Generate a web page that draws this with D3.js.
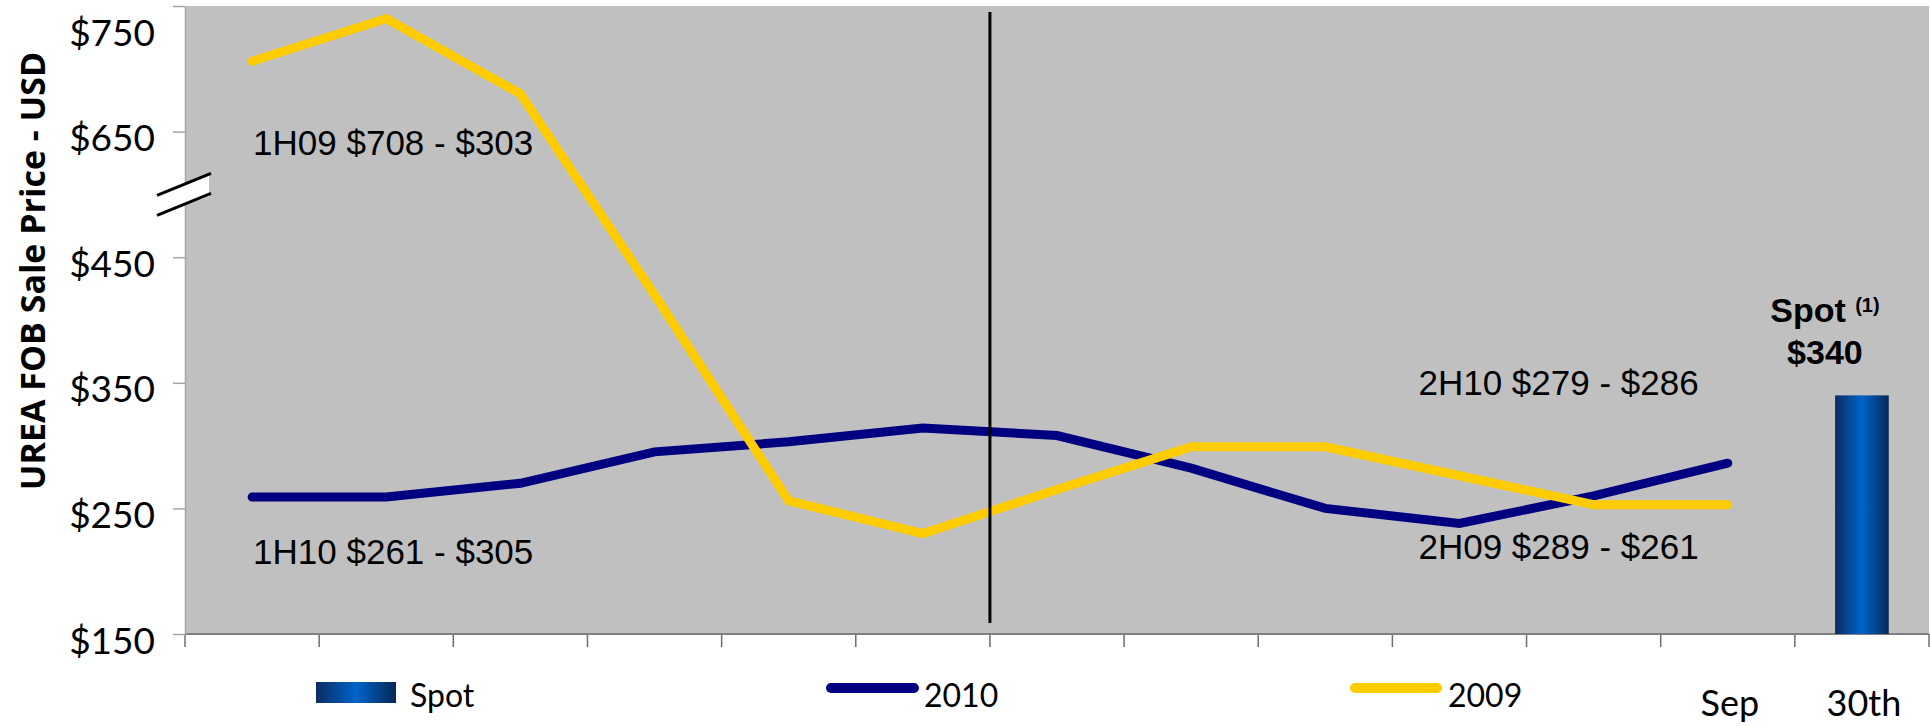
<!DOCTYPE html>
<meta charset="utf-8">
<style>
body { margin: 0; background: #fff; }
svg { display: block; }
</style>
<body>
<svg id="chart" width="1930" height="726"></svg>
<script src="https://d3js.org/d3.v7.min.js"></script>
<script>
// Data
var categories = ["Oct", "Nov", "Dec", "Jan", "Feb", "Mar", "Apr", "May", "Jun", "Jul", "Aug", "Sep", "30th"];
var shownLabels = ["Sep", "30th"];   // the others sit under the legend
var series2010 = [259, 259, 270, 295, 303, 314, 308, 282, 250, 238, 260, 286];
var series2009 = [706, 740, 680, 420, 256, 230, 265, 299, 299, 276, 253, 253];
var spotValue = 340;
var yTicks = [150, 250, 350, 450, 650, 750];
var notes = ["1H09 $708 - $303", "1H10 $261 - $305", "2H10 $279 - $286", "2H09 $289 - $261"];

(function () {
  var svg = d3.select("#chart");

  // plot frame
  var pLeft = 185, pRight = 1929, pTop = 6, pBottom = 634,
      step = (pBottom - pTop) / 5;

  var x = d3.scaleBand().domain(categories).range([pLeft, pRight]).padding(0);
  // broken axis: 450 -> 650 takes a single tick step
  var y = d3.scaleLinear()
    .domain([150, 450, 650, 750])
    .range([pBottom, pBottom - 3 * step, pTop + step, pTop]);

  var cx = function(i) { return x(categories[i]) + x.bandwidth() / 2; };

  var defs = svg.append("defs");
  var grad = defs.append("linearGradient").attr("id", "spotGrad")
    .attr("x1", "0%").attr("x2", "100%").attr("y1", "0%").attr("y2", "0%");
  grad.append("stop").attr("offset", "0%").attr("stop-color", "#0b2d62");
  grad.append("stop").attr("offset", "50%").attr("stop-color", "#0064c8");
  grad.append("stop").attr("offset", "100%").attr("stop-color", "#062857");

  // plot background
  svg.append("rect")
    .attr("x", pLeft).attr("y", pTop)
    .attr("width", pRight - pLeft).attr("height", pBottom - pTop)
    .attr("fill", "#c0c0c0");

  // x axis labels (centre of each band)
  var xAxis = d3.axisBottom(x).tickSize(0).tickPadding(0);
  var gx = svg.append("g").attr("transform", "translate(0," + pBottom + ")").call(xAxis);
  gx.select(".domain").remove();
  gx.selectAll(".tick").filter(function(d) { return shownLabels.indexOf(d) < 0; }).remove();
  gx.selectAll("text")
    .attr("y", 82).attr("dy", 0).attr("dx", 2)
    .style("font-family", "Lato, sans-serif").style("font-size", "36px").attr("fill", "#000");

  // x tick marks between categories
  var bounds = categories.map(function(c) { return x(c); }).concat([pRight]);
  svg.append("g").selectAll("line").data(bounds).enter().append("line")
    .attr("x1", function(d) { return d; }).attr("x2", function(d) { return d; })
    .attr("y1", pBottom).attr("y2", pBottom + 13)
    .attr("stroke", "#6e6e6e").attr("stroke-width", 1.5);
  svg.append("line")
    .attr("x1", pLeft).attr("x2", pRight).attr("y1", pBottom).attr("y2", pBottom)
    .attr("stroke", "#808080").attr("stroke-width", 2);

  // y axis
  var yAxis = d3.axisLeft(y).tickValues(yTicks)
    .tickFormat(function(d) { return "$" + d; })
    .tickSize(12).tickSizeOuter(0).tickPadding(18);
  var gy = svg.append("g").attr("transform", "translate(" + pLeft + ",0)").call(yAxis);
  gy.select(".domain").attr("stroke", "#a6a6a6").attr("stroke-width", 1.5);
  gy.selectAll(".tick line").attr("stroke", "#a6a6a6").attr("stroke-width", 1.5);
  gy.selectAll("text")
    .attr("dy", function(d) { return d === 750 ? 39 : 19; })
    .style("font-family", "Lato, sans-serif").style("font-size", "37px").attr("fill", "#000");

  // axis break marks
  var yb = y(550);
  svg.append("path")
    .attr("d", "M157," + (yb + 2) + "L209," + (yb - 20) + "L209," + (yb + 2) + "L157," + (yb + 21) + "Z")
    .attr("fill", "#fff");
  [0, 20].forEach(function(off) {
    svg.append("line")
      .attr("x1", 157).attr("y1", yb + 1 + off)
      .attr("x2", 211).attr("y2", yb - 21 + off)
      .attr("stroke", "#000").attr("stroke-width", 3);
  });

  // spot bar
  var bw = x.bandwidth() * 0.4;
  var spotX = cx(12);
  svg.append("rect")
    .attr("x", spotX - bw / 2).attr("y", y(spotValue))
    .attr("width", bw).attr("height", pBottom - y(spotValue))
    .attr("fill", "url(#spotGrad)");

  // lines
  var line = d3.line()
    .x(function(d, i) { return cx(i); })
    .y(function(d) { return y(d); });

  svg.append("path").datum(series2010)
    .attr("d", line).attr("fill", "none")
    .attr("stroke", "#000080").attr("stroke-width", 9)
    .attr("stroke-linecap", "round").attr("stroke-linejoin", "miter");
  svg.append("path").datum(series2009)
    .attr("d", line).attr("fill", "none")
    .attr("stroke", "#ffcc00").attr("stroke-width", 9)
    .attr("stroke-linecap", "round").attr("stroke-linejoin", "miter");

  // half-year divider
  svg.append("line")
    .attr("x1", x(categories[6])).attr("x2", x(categories[6]))
    .attr("y1", pTop + 6).attr("y2", pBottom - 11)
    .attr("stroke", "#000").attr("stroke-width", 3);

  // range notes
  var noteFont = "'Liberation Sans', Arial, sans-serif";
  var notePos = [
    [cx(0) + 1, y(612)],
    [cx(0) + 1, y(206)],
    [cx(9) - 41, y(340)],
    [cx(9) - 41, y(210)]
  ];
  svg.append("g").selectAll("text").data(notes).enter().append("text")
    .attr("x", function(d, i) { return notePos[i][0]; })
    .attr("y", function(d, i) { return notePos[i][1]; })
    .style("font-family", noteFont).style("font-size", "35px")
    .attr("fill", "#000")
    .text(function(d) { return d; });

  // spot label
  var lblX = spotX - 37;
  var spotTxt = svg.append("text")
    .attr("x", lblX).attr("y", 322)
    .attr("text-anchor", "middle")
    .style("font-family", noteFont).style("font-weight", "bold").style("font-size", "34px");
  spotTxt.append("tspan").text("Spot ");
  spotTxt.append("tspan").attr("dy", -10).style("font-size", "20px").text("(1)");
  svg.append("text")
    .attr("x", lblX).attr("y", y(spotValue) - 31)
    .attr("text-anchor", "middle")
    .style("font-family", noteFont).style("font-weight", "bold").style("font-size", "34px")
    .text("$" + spotValue);

  // y title
  svg.append("text")
    .attr("transform", "translate(45,271) rotate(-90)")
    .attr("text-anchor", "middle")
    .style("font-family", "'Open Sans', sans-serif").style("font-weight", "bold").style("font-size", "34px")
    .text("UREA FOB Sale Price - USD");

  // legend
  var leg = svg.append("g");
  leg.append("rect").attr("x", 316).attr("y", 682).attr("width", 80).attr("height", 21)
    .attr("fill", "url(#spotGrad)");
  leg.append("text").attr("x", 410).attr("y", 707).text("Spot");
  leg.append("line").attr("x1", 831).attr("x2", 914).attr("y1", 688).attr("y2", 688)
    .attr("stroke", "#000080").attr("stroke-width", 10).attr("stroke-linecap", "round");
  leg.append("text").attr("x", 924).attr("y", 707).text("2010");
  leg.append("line").attr("x1", 1355).attr("x2", 1437).attr("y1", 688).attr("y2", 688)
    .attr("stroke", "#ffcc00").attr("stroke-width", 10).attr("stroke-linecap", "round");
  leg.append("text").attr("x", 1448).attr("y", 707).text("2009");
  leg.selectAll("text").style("font-family", "Lato, sans-serif").style("font-size", "32px").attr("fill", "#000");
})();
</script>
</body>
